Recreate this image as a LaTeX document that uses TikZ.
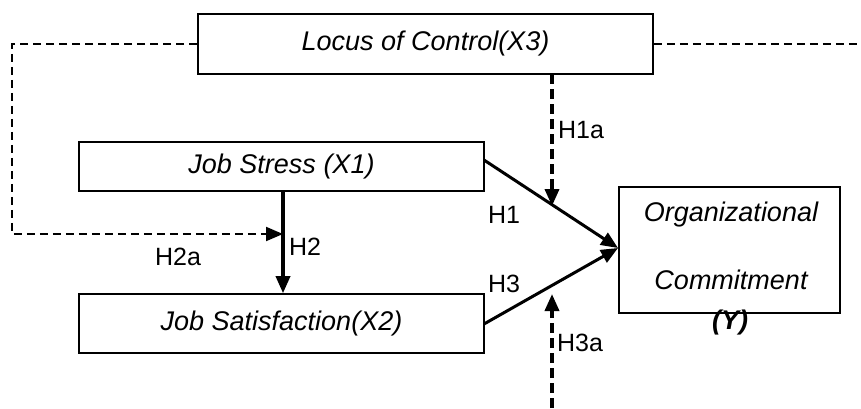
\documentclass[tikz,border=0pt]{standalone}
\usepackage{fontspec}
\setmainfont{Liberation Sans}
\usetikzlibrary{arrows.meta}
\begin{document}
\begin{tikzpicture}[x=1pt,y=-1pt,
  box/.style={draw, line width=1.6pt, inner sep=0pt, font=\fontsize{27}{31}\selectfont\itshape},
  txt/.style={inner sep=0pt, font=\fontsize{27}{31}\selectfont\itshape},
  lbl/.style={inner sep=0pt, font=\fontsize{25}{29}\selectfont},
  tip/.style={-{Triangle[length=17pt,width=14pt]}},
  thinline/.style={line width=1.9pt, dash pattern=on 8pt off 5pt},
  thickdash/.style={line width=3.6pt, dash pattern=on 10pt off 5pt},
  solidarrow/.style={line width=3pt, tip},
]
\useasboundingbox (0,0) rectangle (861,408);

\node[box, minimum width=455pt, minimum height=60pt] (loc) at (425.5,44) {Locus of Control(X3)};
\node[box, minimum width=405pt, minimum height=49pt] (js) at (281.5,166.5) {Job Stress (X1)};
\node[box, minimum width=405pt, minimum height=59pt] (jsat) at (281.5,323.5) {Job Satisfaction(X2)};
\node[box, minimum width=221pt, minimum height=126pt] (org) at (729.5,250) {};
\node[txt] (orgA) at (731,215) {Organizational};
\node[txt] (orgB) at (731,280) {Commitment};
\node[txt, font=\fontsize{27}{31}\selectfont\itshape\bfseries] (orgY) at (730,323) {(Y)};

% coordinates
\coordinate (lcorner1) at (12,44);
\coordinate (lcorner2) at (12,234);
\coordinate (h2mid) at (283,234);
\coordinate (rend) at (861,44);
\coordinate (h1atop) at (552,74);
\coordinate (h1aend) at (552,206);
\coordinate (h3abot) at (552,408);
\coordinate (h3aend) at (552,294);
\coordinate (jsE) at (484,160);
\coordinate (jsatE) at (484,324);
\coordinate (orgW) at (618,248);

% solid arrows
\draw[solidarrow, line width=3.4pt] (js.south -| h2mid) -- (jsat.north -| h2mid);
\draw[solidarrow] (jsE) -- (orgW);
\draw[solidarrow] (jsatE) -- (orgW);

% dashed connectors
\draw[thinline, tip] (loc.west) -- (lcorner1) -- (lcorner2) -- (h2mid);
\draw[thinline] (loc.east) -- (rend);
\draw[thickdash, tip] (h1atop) -- (h1aend);
\draw[thickdash, tip] (h3abot) -- (h3aend);

% labels
\node[lbl] (lH1a) at (581,130) {H1a};
\node[lbl] (lH1) at (504,215) {H1};
\node[lbl] (lH2) at (305,247) {H2};
\node[lbl] (lH2a) at (178,257) {H2a};
\node[lbl] (lH3) at (504,284) {H3};
\node[lbl] (lH3a) at (580,343) {H3a};
\end{tikzpicture}
\end{document}
